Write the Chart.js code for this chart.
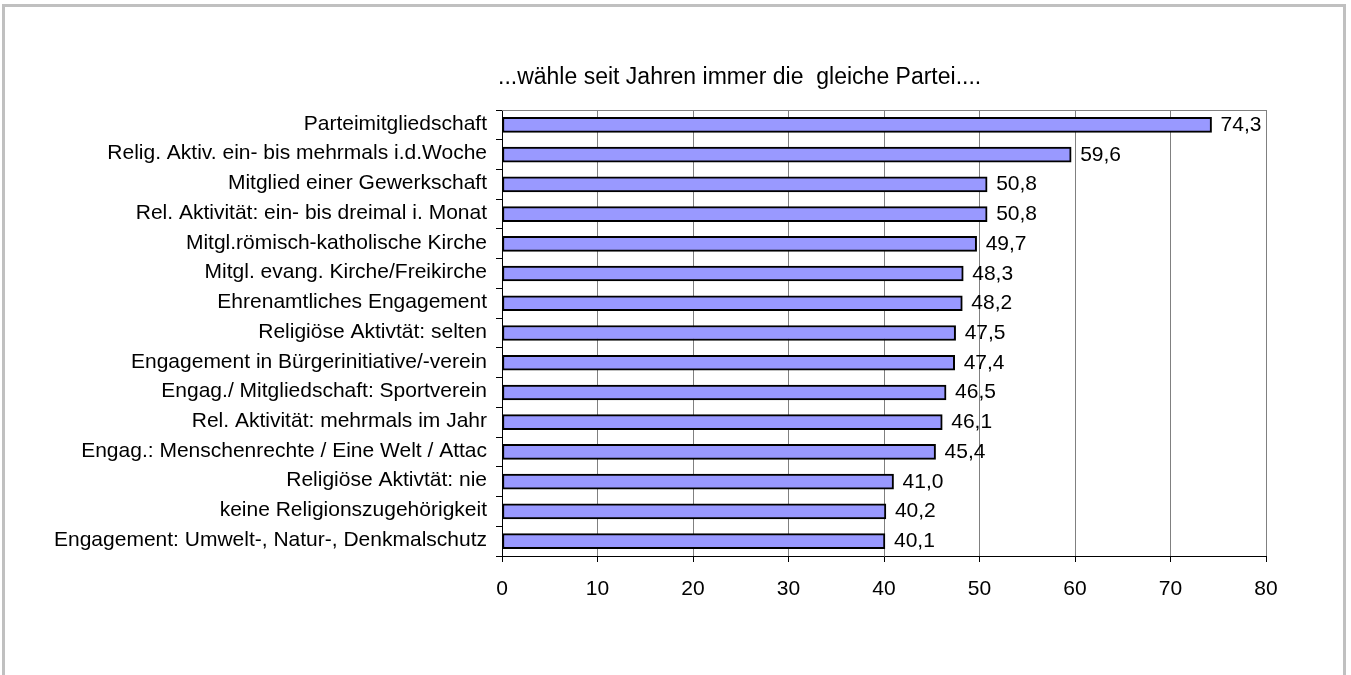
<!DOCTYPE html>
<html>
<head>
<meta charset="utf-8">
<script src="https://cdn.jsdelivr.net/npm/chart.js@4/dist/chart.umd.min.js"></script>
<style>
  html, body { margin: 0; padding: 0; background: #ffffff; width: 1351px; height: 675px; overflow: hidden; }
  #frame { position: absolute; left: 2px; top: 4px; width: 1338px; height: 720px; border: 3px solid #c0c0c0; }
  #c { position: absolute; left: 0; top: 0; }
</style>
</head>
<body>
<div id="frame"></div>
<canvas id="c" width="1351" height="675"></canvas>
<script>
const titleText = "...wähle seit Jahren immer die  gleiche Partei....";
const categories = [
  "Parteimitgliedschaft",
  "Relig. Aktiv. ein- bis mehrmals i.d.Woche",
  "Mitglied einer Gewerkschaft",
  "Rel. Aktivität: ein- bis dreimal i. Monat",
  "Mitgl.römisch-katholische Kirche",
  "Mitgl. evang. Kirche/Freikirche",
  "Ehrenamtliches Engagement",
  "Religiöse Aktivtät: selten",
  "Engagement in Bürgerinitiative/-verein",
  "Engag./ Mitgliedschaft: Sportverein",
  "Rel. Aktivität: mehrmals im Jahr",
  "Engag.: Menschenrechte / Eine Welt / Attac",
  "Religiöse Aktivtät: nie",
  "keine Religionszugehörigkeit",
  "Engagement: Umwelt-, Natur-, Denkmalschutz"
];
const values = [74.3, 59.6, 50.8, 50.8, 49.7, 48.3, 48.2, 47.5, 47.4, 46.5, 46.1, 45.4, 41.0, 40.2, 40.1];
const xTicks = [0, 10, 20, 30, 40, 50, 60, 70, 80];

const FONT = "'Liberation Sans', Arial, sans-serif";

const extras = {
  id: 'extras',
  afterDatasetsDraw(chart) {
    const ctx = chart.ctx;
    const area = chart.chartArea;
    ctx.save();
    // top border of plot area
    ctx.strokeStyle = '#808080';
    ctx.lineWidth = 1;
    ctx.beginPath();
    ctx.moveTo(area.left, Math.round(area.top) + 0.5);
    ctx.lineTo(area.right, Math.round(area.top) + 0.5);
    ctx.stroke();
    // value labels
    ctx.fillStyle = '#000000';
    ctx.font = "21px " + FONT;
    ctx.textAlign = 'left';
    ctx.textBaseline = 'alphabetic';
    const meta = chart.getDatasetMeta(0);
    meta.data.forEach((bar, i) => {
      const txt = values[i].toFixed(1).replace('.', ',');
      ctx.fillText(txt, bar.x + 9, bar.y + 6);
    });
    // title
    ctx.font = "23px " + FONT;
    ctx.fillText(titleText, 498, 84);
    ctx.restore();
  }
};

new Chart(document.getElementById('c'), {
  type: 'bar',
  data: {
    labels: categories,
    datasets: [{
      data: values,
      backgroundColor: '#9999ff',
      borderColor: '#000000',
      borderWidth: 2,
      borderSkipped: false,
      barThickness: 15
    }]
  },
  options: {
    indexAxis: 'y',
    responsive: false,
    animation: false,
    devicePixelRatio: 1,
    layout: { padding: { left: 0, top: 110, right: 85, bottom: 0 } },
    plugins: {
      legend: { display: false },
      title: { display: false },
      tooltip: { enabled: false }
    },
    scales: {
      x: {
        min: 0, max: 80,
        afterBuildTicks(scale) { scale.ticks = xTicks.map(v => ({ value: v })); },
        afterFit(scale) { scale.height = 119; },
        grid: { color: '#808080', lineWidth: 1, tickColor: '#000000', tickLength: 6, drawOnChartArea: true },
        border: { display: true, color: '#000000', width: 1 },
        ticks: { color: '#000000', font: { family: FONT, size: 21 }, padding: 15, maxRotation: 0 }
      },
      y: {
        afterFit(scale) { scale.width = 502; },
        grid: { offset: true, drawOnChartArea: false, drawTicks: true, tickLength: 6, tickColor: '#000000', color: '#000000' },
        border: { display: true, color: '#000000', width: 1 },
        ticks: { color: '#000000', font: { family: FONT, size: 21 }, padding: 9, labelOffset: -1, autoSkip: false }
      }
    }
  },
  plugins: [extras]
});
</script>
</body>
</html>
